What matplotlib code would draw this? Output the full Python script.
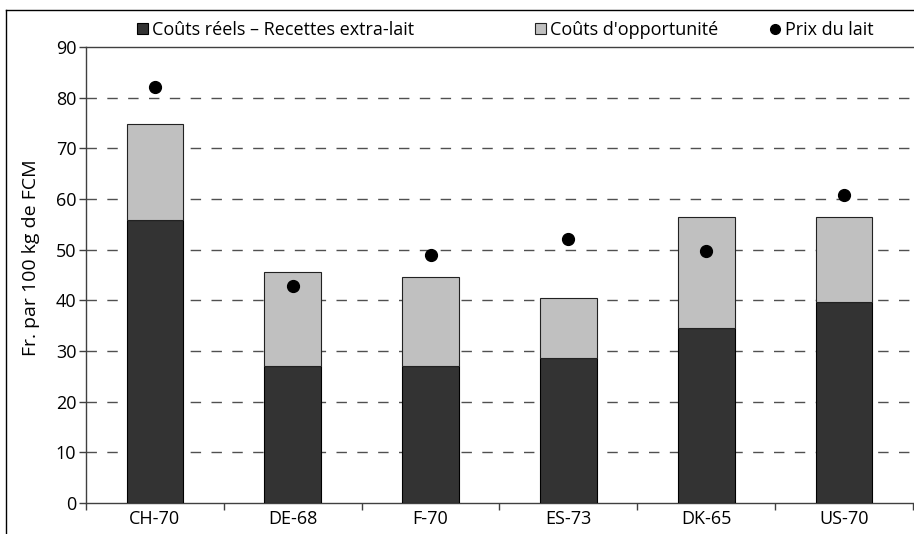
import matplotlib
matplotlib.use("Agg")
import matplotlib.pyplot as plt
from matplotlib.patches import Patch
from matplotlib.lines import Line2D
import numpy as np

plt.rcParams['font.family'] = ['Open Sans', 'DejaVu Sans']
plt.rcParams['font.size'] = 13

categories = ["CH-70", "DE-68", "F-70", "ES-73", "DK-65", "US-70"]
couts_reels = [55.9, 27.0, 27.0, 28.7, 34.5, 39.6]
couts_opportunite = [18.9, 18.6, 17.7, 11.8, 21.9, 16.8]
prix_lait = [82.2, 42.9, 48.9, 52.2, 49.7, 60.7]
y_ticks = [0, 10, 20, 30, 40, 50, 60, 70, 80, 90]

DARK = "#333333"
LIGHT = "#c0c0c0"
FS = 13

fig = plt.figure(figsize=(9.14, 5.34), dpi=100)
ax = fig.add_axes([86 / 914, 31 / 534, (913 - 86) / 914, (503 - 47) / 534])

x = np.arange(len(categories))
width = 0.41
ax.bar(x, couts_reels, width, color=DARK, edgecolor="black", linewidth=0.8, zorder=3)
ax.bar(x, couts_opportunite, width, bottom=couts_reels, color=LIGHT,
       edgecolor="#222222", linewidth=0.8, zorder=3)
ax.plot(x, prix_lait, linestyle="none", marker="o", markersize=8.5,
        color="black", zorder=4)

ax.set_xlim(-0.5, len(categories) - 0.5)
ax.set_ylim(0, 90)
ax.set_yticks(y_ticks)
for v in y_ticks[1:-1]:
    ax.axhline(v, color="#505050", linewidth=1.0, linestyle=(0, (7.5, 7.5)), zorder=1)

ax.set_xticks(x)
ax.set_xticklabels(categories)
ax.set_xticks(np.arange(-0.5, len(categories) + 0.5, 1), minor=True)
ax.tick_params(axis="x", which="major", length=0, pad=5, labelsize=FS)
ax.tick_params(axis="x", which="minor", length=5, width=1, color="#404040", direction="out")
ax.tick_params(axis="y", length=5, width=1, color="#404040", direction="out", pad=2, labelsize=FS)

for side in ("left", "bottom", "top"):
    ax.spines[side].set_color("#404040")
    ax.spines[side].set_linewidth(1.0)
ax.spines["right"].set_visible(False)

ax.set_ylabel("Fr. par 100 kg de FCM", fontsize=14)
ax.yaxis.set_label_coords(-0.056, 0.537)

# outer chart frame (left and top edges)
fig.add_artist(Line2D([6 / 914, 6 / 914], [0, 1 - 10 / 534], color="black",
                      linewidth=1.0, transform=fig.transFigure))
fig.add_artist(Line2D([6 / 914, 1], [1 - 10 / 534, 1 - 10 / 534], color="black",
                      linewidth=1.0, transform=fig.transFigure))

# legend entries
entries = [
    (Patch(facecolor=DARK, edgecolor="black", linewidth=0.8), "Coûts réels – Recettes extra-lait", 137),
    (Patch(facecolor=LIGHT, edgecolor="#222222", linewidth=0.8), "Coûts d'opportunité", 535),
    (Line2D([], [], linestyle="none", marker="o", markersize=7, color="black"), "Prix du lait", 770),
]
for handle, label, xpos in entries:
    fig.legend([handle], [label], loc="center left",
               bbox_to_anchor=(xpos / 914, 1 - 30 / 534), frameon=False,
               handlelength=0.6, handleheight=0.6, handletextpad=0.25,
               borderpad=0, borderaxespad=0, fontsize=FS)

fig.savefig("out.png", dpi=100)
